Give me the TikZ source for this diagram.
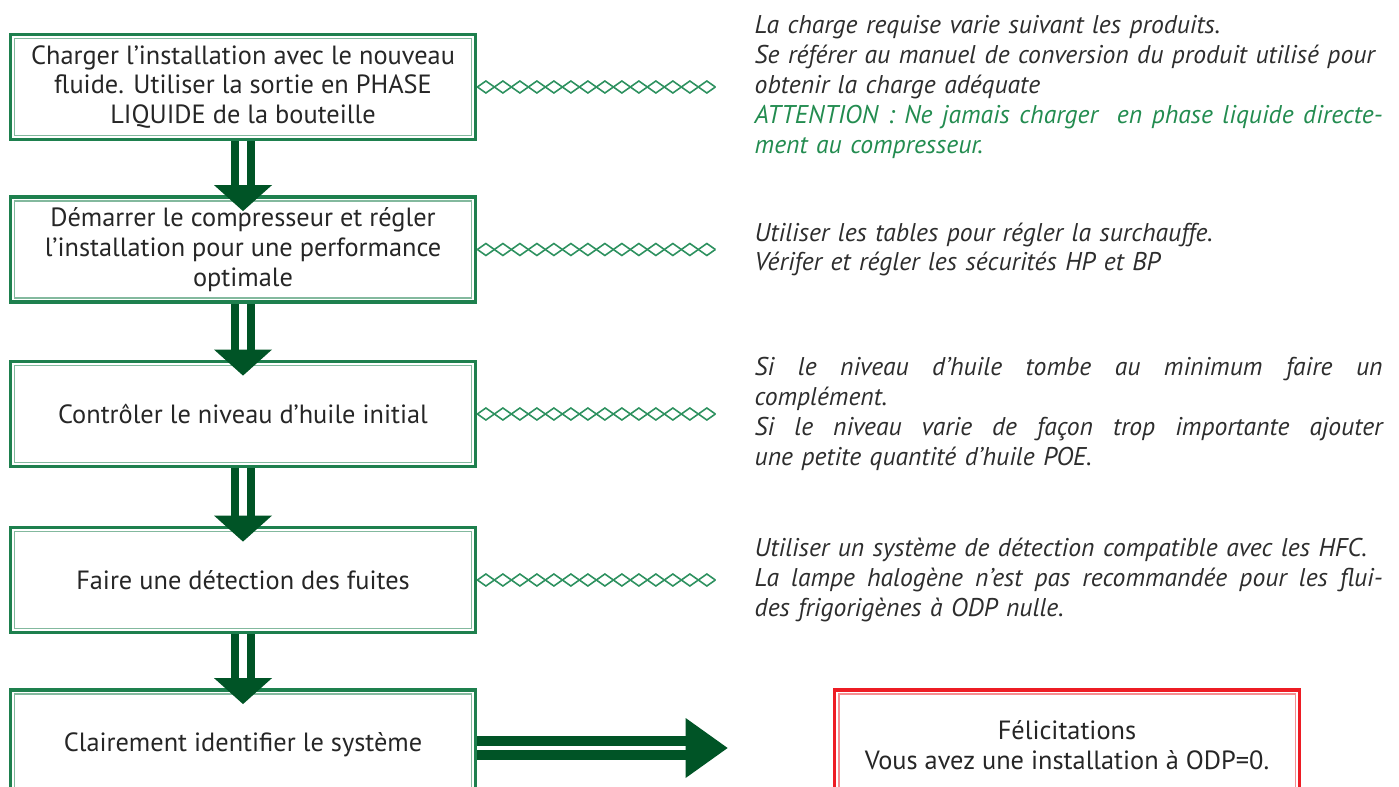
\documentclass[tikz,border=0pt]{standalone}
\usepackage{fontspec}
\setmainfont{PT Sans}
\usetikzlibrary{calc,positioning,decorations.pathmorphing}

\definecolor{boxgreen}{RGB}{30,128,78}
\definecolor{arrowgreen}{RGB}{0,84,38}
\definecolor{chaingreen}{RGB}{45,145,95}
\definecolor{notegreen}{RGB}{35,140,80}
\definecolor{notegray}{RGB}{45,45,45}
\definecolor{alertred}{RGB}{237,28,36}

\newcommand{\fullline}[1]{\leavevmode\hbox to 12.56cm{\spaceskip=0.25em plus 1em\relax #1}}

\tikzset{
  stepbox/.style={draw=boxgreen, line width=2.2pt, minimum width=9.3cm, minimum height=2.1cm,
    align=center, text=black!85, font=\fontsize{15}{17}\selectfont},
  innerline/.style={draw=boxgreen!55, line width=1pt},
  note/.style={inner sep=0pt, text width=13.4cm, align=left, text=notegray,
    font=\itshape\fontsize{14.6}{17}\selectfont},
  chain/.style={draw=chaingreen, line width=0.9pt, decorate,
    decoration={zigzag, segment length=0.68cm, amplitude=0.12cm}},
  flowbar/.style={draw=arrowgreen, line width=4.5pt, double=white, double distance=4.5pt},
}

\begin{document}
\begin{tikzpicture}[x=0.02cm, y=-0.02cm]
  \useasboundingbox (0,0) rectangle (1399,787);
  \clip (0,0) rectangle (1399,787);

  % the steps
  \node[stepbox] (b1) at (243,87) {Charger l’installation avec le nouveau\\fluide. Utiliser la sortie en PHASE\\LIQUIDE de la bouteille};
  \node[stepbox] (b2) at (243,249.5) {Démarrer le compresseur et régler\\l’installation pour une performance\\optimale};
  \node[stepbox] (b3) at (243,414) {Contrôler le niveau d’huile initial};
  \node[stepbox] (b4) at (243,580) {Faire une détection des fuites};
  \node[stepbox, minimum height=2.2cm] (b5) at (243,745) {Clairement identifier le système};

  % end box
  \node[stepbox, draw=alertred, minimum height=2.2cm] (done) at (1067,745) {Félicitations\\Vous avez une installation à ODP=0.};

  % inner lines of the frames
  \foreach \n in {b1,b2,b3,b4,b5}
    \draw[innerline] ($(\n.north west)+(6,6)$) rectangle ($(\n.south east)+(-6,-6)$);
  \draw[innerline, draw=alertred!50] ($(done.north west)+(6,6)$) rectangle ($(done.south east)+(-6,-6)$);

  % double arrows between the steps
  \foreach \a/\b in {b1/b2,b2/b3,b3/b4,b4/b5} {
    \draw[flowbar] (\a.south) -- ($(\b.north)+(0,-8)$);
    \fill[arrowgreen] ($(\b.north)+(-29,-10)$) -- ($(\b.north)+(29,-10)$) -- ($(\b.north)+(0,16)$) -- cycle;
  }
  \draw[flowbar, line width=5.6pt, double distance=2.8pt] ($(b5.east)+(0,3)$) -- ($(done.west)+(-144,3)$);
  \fill[arrowgreen] ($(done.west)+(-147,-27)$) -- ($(done.west)+(-147,33)$) -- ($(done.west)+(-105,3)$) -- cycle;

  % diamond chains to the notes
  \foreach \n in {1,...,4} {
    \coordinate (c\n) at ($(b\n.east)+(238,0)$);
    \draw[chain] (b\n.east) -- (c\n);
    \draw[chain, decoration={mirror}] (b\n.east) -- (c\n);
  }

  % notes
  \node[note, right=0.78cm of c1] (n1) {La charge requise varie suivant les produits.\\
    Se référer au manuel de conversion du produit utilisé pour\\
    obtenir la charge adéquate\\
    \color{notegreen}\fullline{ATTENTION : Ne jamais charger \ en phase liquide directe-}\\
    ment au compresseur.};
  \node[note, right=0.78cm of c2] (n2) {Utiliser les tables pour régler la surchauffe.\\
    Vérifer et régler les sécurités HP et BP};
  \node[note, right=0.78cm of c3] (n3) {\fullline{Si le niveau d’huile tombe au minimum faire un}\\
    complément.\\
    \fullline{Si le niveau varie de façon trop importante ajouter}\\
    une petite quantité d’huile POE.};
  \node[note, right=0.78cm of c4] (n4) {Utiliser un système de détection compatible avec les HFC.\\
    \fullline{La lampe halogène n’est pas recommandée pour les flui-}\\
    des frigorigènes à ODP nulle.};
\end{tikzpicture}
\end{document}
